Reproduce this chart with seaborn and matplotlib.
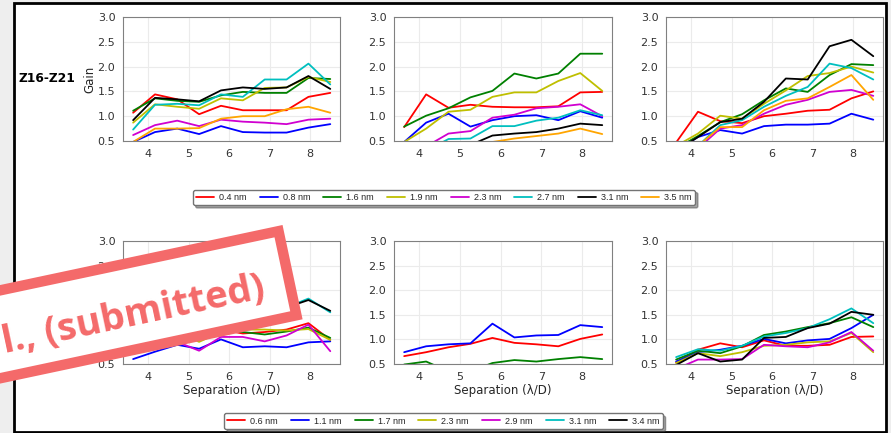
import numpy as np
import pandas as pd
import matplotlib
matplotlib.use("Agg")
import matplotlib.pyplot as plt
import matplotlib.patches as mpatches
import matplotlib.transforms as mtransforms
import seaborn as sns

# Angular separations (lambda/D) sampled by every curve
separation = [3.63, 4.17, 4.72, 5.26, 5.80, 6.34, 6.88, 7.42, 7.96, 8.50]

# Top row: aberration amplitudes and colours
top_labels = ["0.4 nm", "0.8 nm", "1.6 nm", "1.9 nm", "2.3 nm", "2.7 nm", "3.1 nm", "3.5 nm"]
top_colors = ["red", "blue", "green", "#bfbf00", "#d000d0", "#00bfbf", "black", "orange"]

top_left = [
    [1.07, 1.44, 1.34, 1.04, 1.21, 1.12, 1.12, 1.12, 1.39, 1.47],
    [0.48, 0.68, 0.75, 0.64, 0.80, 0.68, 0.67, 0.67, 0.77, 0.84],
    [1.11, 1.36, 1.31, 1.29, 1.42, 1.49, 1.47, 1.47, 1.77, 1.75],
    [0.87, 1.24, 1.19, 1.15, 1.36, 1.32, 1.57, 1.58, 1.79, 1.69],
    [0.62, 0.82, 0.91, 0.80, 0.93, 0.89, 0.87, 0.84, 0.93, 0.95],
    [0.73, 1.23, 1.25, 1.22, 1.44, 1.39, 1.74, 1.74, 2.06, 1.64],
    [0.92, 1.37, 1.34, 1.30, 1.52, 1.58, 1.55, 1.58, 1.81, 1.55],
    [0.48, 0.75, 0.75, 0.76, 0.95, 1.00, 1.00, 1.14, 1.19, 1.07],
]
top_mid = [
    [0.78, 1.44, 1.17, 1.23, 1.19, 1.18, 1.18, 1.20, 1.48, 1.49],
    [0.48, 0.87, 1.05, 0.79, 0.92, 1.00, 1.02, 0.92, 1.10, 0.97],
    [0.79, 1.01, 1.16, 1.38, 1.51, 1.86, 1.76, 1.86, 2.26, 2.26],
    [0.48, 0.75, 1.09, 1.13, 1.39, 1.48, 1.48, 1.71, 1.87, 1.51],
    [0.25, 0.39, 0.65, 0.70, 0.97, 1.03, 1.16, 1.19, 1.24, 1.00],
    [0.20, 0.30, 0.54, 0.55, 0.80, 0.80, 0.91, 0.97, 1.12, 1.02],
    [0.15, 0.20, 0.30, 0.42, 0.61, 0.65, 0.68, 0.75, 0.85, 0.82],
    [0.10, 0.15, 0.20, 0.30, 0.48, 0.55, 0.60, 0.65, 0.75, 0.64],
]
top_right = [
    [0.47, 1.09, 0.90, 0.86, 1.00, 1.05, 1.11, 1.13, 1.36, 1.50],
    [0.30, 0.58, 0.72, 0.65, 0.80, 0.83, 0.83, 0.85, 1.05, 0.93],
    [0.35, 0.60, 0.88, 1.04, 1.32, 1.56, 1.49, 1.83, 2.05, 2.03],
    [0.40, 0.65, 1.01, 0.95, 1.25, 1.52, 1.81, 1.87, 2.00, 1.88],
    [0.20, 0.35, 0.75, 0.82, 1.05, 1.23, 1.33, 1.49, 1.53, 1.41],
    [0.20, 0.40, 0.82, 0.92, 1.19, 1.41, 1.59, 2.06, 1.97, 1.74],
    [0.30, 0.58, 0.88, 0.95, 1.29, 1.76, 1.74, 2.41, 2.54, 2.21],
    [0.20, 0.40, 0.78, 0.78, 1.12, 1.31, 1.36, 1.59, 1.83, 1.33],
]

# Bottom row: aberration amplitudes and colours
bot_labels = ["0.6 nm", "1.1 nm", "1.7 nm", "2.3 nm", "2.9 nm", "3.1 nm", "3.4 nm"]
bot_colors = ["red", "blue", "green", "#bfbf00", "#d000d0", "#00bfbf", "black"]

bot_left = [
    [0.85, 1.05, 1.15, 1.00, 1.20, 1.12, 1.15, 1.20, 1.33, 0.99],
    [0.60, 0.75, 0.89, 0.81, 1.00, 0.84, 0.86, 0.84, 0.94, 0.96],
    [0.90, 1.15, 1.20, 1.05, 1.20, 1.15, 1.10, 1.16, 1.24, 1.03],
    [0.85, 1.10, 1.15, 0.95, 1.15, 1.20, 1.20, 1.18, 1.21, 0.99],
    [0.70, 0.90, 0.95, 0.77, 1.05, 1.05, 0.96, 1.08, 1.30, 0.76],
    [0.95, 1.35, 1.40, 1.30, 1.50, 1.60, 1.55, 1.65, 1.83, 1.55],
    [1.00, 1.40, 1.40, 1.30, 1.55, 1.60, 1.60, 1.65, 1.80, 1.58],
]
bot_mid = [
    [0.66, 0.74, 0.84, 0.91, 1.03, 0.93, 0.90, 0.86, 1.01, 1.10],
    [0.74, 0.86, 0.90, 0.92, 1.32, 1.04, 1.08, 1.09, 1.29, 1.25],
    [0.49, 0.55, 0.35, 0.35, 0.52, 0.58, 0.55, 0.60, 0.64, 0.60],
    [0.30, 0.35, 0.30, 0.28, 0.33, 0.36, 0.34, 0.38, 0.42, 0.40],
    [0.25, 0.30, 0.28, 0.30, 0.35, 0.32, 0.33, 0.36, 0.40, 0.38],
    [0.20, 0.22, 0.25, 0.27, 0.30, 0.28, 0.30, 0.32, 0.36, 0.33],
    [0.18, 0.20, 0.22, 0.25, 0.27, 0.26, 0.28, 0.30, 0.34, 0.31],
]
bot_right = [
    [0.53, 0.79, 0.92, 0.84, 0.98, 0.87, 0.87, 0.89, 1.05, 1.06],
    [0.55, 0.74, 0.79, 0.87, 1.01, 0.92, 0.98, 1.01, 1.23, 1.50],
    [0.59, 0.77, 0.72, 0.86, 1.09, 1.16, 1.25, 1.33, 1.45, 1.25],
    [0.52, 0.72, 0.66, 0.74, 0.87, 0.89, 0.94, 0.96, 1.13, 0.74],
    [0.40, 0.59, 0.59, 0.60, 0.89, 0.86, 0.84, 0.94, 1.15, 0.77],
    [0.64, 0.80, 0.77, 0.87, 1.06, 1.13, 1.23, 1.41, 1.63, 1.33],
    [0.48, 0.72, 0.55, 0.59, 1.03, 1.05, 1.23, 1.32, 1.56, 1.50],
]

y_ticks = [0.5, 1.0, 1.5, 2.0, 2.5, 3.0]
x_ticks = [4, 5, 6, 7, 8]


def to_frame(series, labels):
    rows = []
    for lab, vals in zip(labels, series):
        for s, g in zip(separation, vals):
            rows.append({"sep": s, "gain": g, "amp": lab})
    return pd.DataFrame(rows)


sns.set_style("whitegrid", {"grid.color": "0.92", "axes.edgecolor": "0.5",
                            "axes.linewidth": 1.0})
plt.rcParams["font.family"] = ["DejaVu Sans"]

W, H, DPI = 891, 433, 100
fig = plt.figure(figsize=(W / DPI, H / DPI), dpi=DPI, facecolor="#eeeeee")

# white page with a black frame
px = mtransforms.Affine2D().scale(1 / DPI) + fig.dpi_scale_trans
page = mpatches.Rectangle((14, H - 432), 872, 429, transform=px,
                          facecolor="white", edgecolor="black", linewidth=2.0,
                          zorder=-5)
fig.patches.append(page)


def add_axes(left, top, right, bottom):
    return fig.add_axes([left / W, (H - bottom) / H, (right - left) / W, (bottom - top) / H])


cols = [(123, 340), (394, 612), (666, 883)]
rows_px = [(17, 141), (241, 364)]

panels = [
    (0, 0, top_left, top_labels, top_colors),
    (0, 1, top_mid, top_labels, top_colors),
    (0, 2, top_right, top_labels, top_colors),
    (1, 0, bot_left, bot_labels, bot_colors),
    (1, 1, bot_mid, bot_labels, bot_colors),
    (1, 2, bot_right, bot_labels, bot_colors),
]

axes = {}
for r, c, series, labels, colors in panels:
    l, rgt = cols[c]
    t, b = rows_px[r]
    ax = add_axes(l, t, rgt, b)
    df = to_frame(series, labels)
    sns.lineplot(data=df, x="sep", y="gain", hue="amp", hue_order=labels,
                 palette=colors, estimator=None, linewidth=1.3, legend=False, ax=ax)
    ax.set_ylim(0.5, 3.0)
    ax.set_xlim(3.38, 8.74)
    ax.set_yticks(y_ticks)
    ax.set_xticks(x_ticks)
    ax.set_yticklabels([f"{v:.1f}" for v in y_ticks])
    ax.tick_params(labelsize=8, colors="0.2", pad=2)
    ax.set_ylabel("")
    if r == 1:
        ax.set_xlabel("Separation (λ/D)", fontsize=8.5, color="0.15", labelpad=2)
    else:
        ax.set_xlabel("")
    for sp in ax.spines.values():
        sp.set_color("0.5")
    axes[(r, c)] = ax

axes[(0, 0)].set_ylabel("Gain", fontsize=8.5, color="0.15", labelpad=1)
fig.text(47 / W, (H - 79) / H, "Z16-Z21", fontsize=8.8, fontweight="bold",
         ha="center", va="center", color="black")

leg_kw = dict(loc="center", ncol=8, frameon=True, fancybox=True, shadow=True,
              edgecolor="0.45", framealpha=1.0, handlelength=2.0,
              handletextpad=0.55, columnspacing=1.45, borderpad=0.35,
              prop={"family": "Liberation Sans", "size": 6.5})
fig.legend(handles=axes[(0, 0)].get_lines()[:len(top_labels)], labels=top_labels,
           bbox_to_anchor=(444 / W, (H - 197.5) / H), **leg_kw)
leg_kw["ncol"] = 7
fig.legend(handles=axes[(1, 2)].get_lines()[:len(bot_labels)], labels=bot_labels,
           bbox_to_anchor=(443.5 / W, (H - 421) / H), **leg_kw)

# red "submitted" stamp across the lower-left panel
stamp_red = "#f46a6a"
ang = 12.0
stamp = mpatches.Rectangle((-88, 36), 393, 86, angle=ang, rotation_point="xy",
                           transform=px, facecolor="white", edgecolor=stamp_red,
                           linewidth=7.5, zorder=10)
fig.patches.append(stamp)
fig.text(5 / W, 80 / H, "l., (submitted)", fontsize=27.5, fontweight="bold",
         family="Open Sans", color=stamp_red, rotation=ang,
         rotation_mode="anchor", ha="left", va="baseline", zorder=11)

fig.savefig("out.png", dpi=DPI, facecolor=fig.get_facecolor())
